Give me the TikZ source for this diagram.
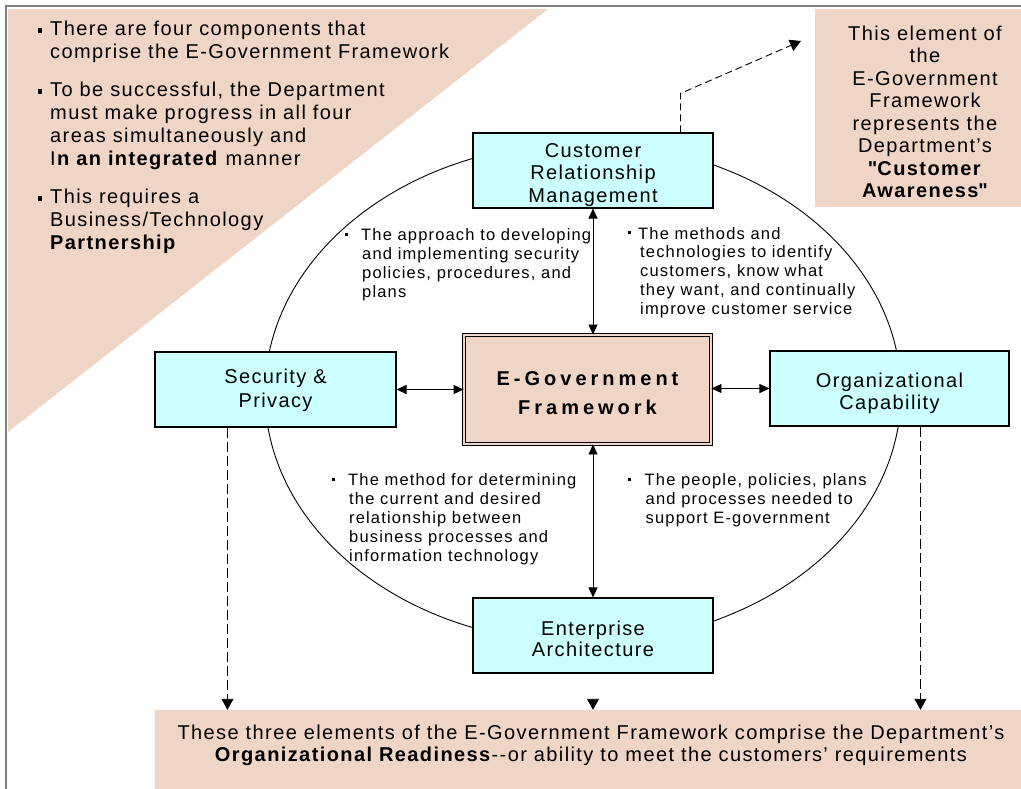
\documentclass[tikz,border=0pt]{standalone}
\usepackage{fontspec}
\setmainfont{Liberation Sans}[LetterSpace=7]
\newfontfamily\egfont{Liberation Sans}[LetterSpace=20]
\usetikzlibrary{arrows.meta,calc}
\definecolor{pinkbg}{RGB}{239,213,198}
\definecolor{cyanbox}{RGB}{204,255,255}
\definecolor{framegray}{RGB}{128,128,128}
\newcommand\bigsz[1]{\fontsize{20}{#1}\selectfont}
\newcommand\smallsz[1]{\fontsize{16.5}{#1}\selectfont}
\newcommand\sqb[3]{\makebox[#1][l]{\rule[#3]{#2}{#2}}}
\newcommand\ind[1]{\hskip#1\relax}
\newcommand\clines[1]{\vtop{\halign{\hfil##\hfil\cr#1\crcr}}}
\newcommand\llines[1]{\vtop{\halign{##\hfil\cr#1\crcr}}}
\begin{document}
\begin{tikzpicture}[x=1pt,y=-1pt,
  cbox/.style={draw=black,line width=1.1pt,fill=cyanbox,inner sep=0pt,text height=0pt},
  note/.style={anchor=north west,inner sep=0pt,text height=0pt,text depth=0pt,font=\smallsz{19}},
  biarrow/.style={{Triangle[length=10pt,width=9pt]}-{Triangle[length=10pt,width=9pt]},line width=0.9pt},
  dasharrow/.style={-{Triangle[length=11pt,width=12pt]},line width=0.9pt,dash pattern=on 10pt off 4pt},
]
\useasboundingbox (0,0) rectangle (1021,788);
\fill[pinkbg] (8,9) -- (548,9) -- (8,432) -- cycle;
\draw[framegray,line width=2pt] (6,790) -- (6,6) -- (1023,6);
\draw[line width=0.9pt] (583,393) ellipse [x radius=318pt, y radius=250pt];

\node[fill=pinkbg,minimum width=220pt,minimum height=198pt,inner sep=0pt,text height=0pt,text depth=136pt,font=\bigsz{22.57}] (aware) at (925,108)
  {\clines{This element of\cr the\cr E-Government\cr Framework\cr represents the\cr Department's\cr \textbf{\textquotedbl Customer}\cr \textbf{Awareness\textquotedbl}}};

\node[fill=pinkbg,minimum width=872pt,minimum height=80pt,inner sep=0pt,text height=0pt,text depth=21.4pt,font=\bigsz{22.4}] (ready) at (591,750)
  {\clines{These three elements of the E-Government Framework comprise the Department's\cr \textbf{Organizational Readiness}-{}-or ability to meet the customers' requirements}};

\node[cbox,minimum width=240pt,minimum height=75pt,text depth=27pt,font=\bigsz{22.5}] (crm) at (593,170.5)
  {\clines{Customer\cr Relationship\cr Management}};
\node[cbox,minimum width=241pt,minimum height=75pt,text depth=12.4pt,font=\bigsz{24}] (sec) at (275.5,389.5)
  {\clines{Security \&\cr Privacy}};
\node[cbox,minimum width=239pt,minimum height=75pt,text depth=3pt,font=\bigsz{22.6}] (org) at (889.5,388.5)
  {\clines{Organizational\cr Capability}};
\node[cbox,minimum width=240pt,minimum height=75pt,text depth=1pt,font=\bigsz{21.7}] (ea) at (593,635.5)
  {\clines{Enterprise\cr Architecture}};
\node[draw=black,line width=0.9pt,double=pinkbg,double distance=2.2pt,fill=pinkbg,minimum width=247pt,minimum height=109pt,inner sep=0pt,text height=0pt,text depth=7.6pt,font=\egfont\bfseries\fontsize{20}{28.6}\selectfont] (eg) at (587.5,389.5)
  {\clines{E-Government\cr Framework}};

\node[note,font=\bigsz{23}] (intro) at (37.5,35)
  {\llines{\sqb{12.5pt}{4.5pt}{3pt}There are four components that\cr
   \ind{12.5pt}comprise the E-Government Framework\cr
   \noalign{\vskip15pt}
   \sqb{12.5pt}{4.5pt}{3pt}To be successful, the Department\cr
   \ind{12.5pt}must make progress in all four\cr
   \ind{12.5pt}areas simultaneously and\cr
   \ind{12.5pt}I\textbf{n an integrated} manner\cr
   \noalign{\vskip15pt}
   \sqb{12.5pt}{4.5pt}{3pt}This requires a\cr
   \ind{12.5pt}Business/Technology\cr
   \ind{12.5pt}\textbf{Partnership}}};

\node[note] (secnote) at (345,240)
  {\llines{\sqb{16pt}{3pt}{5pt}The approach to developing\cr
   \ind{17pt}and implementing security\cr
   \ind{17pt}policies, procedures, and\cr
   \ind{17pt}plans}};
\node[note,font=\smallsz{18.75}] (crmnote) at (628,238.3)
  {\llines{\sqb{10pt}{3pt}{5pt}The methods and\cr
   \ind{12pt}technologies to identify\cr
   \ind{12pt}customers, know what\cr
   \ind{12pt}they want, and continually\cr
   \ind{12pt}improve customer service}};
\node[note] (eanote) at (332,485)
  {\llines{\sqb{16pt}{3pt}{5pt}The method for determining\cr
   \ind{17pt}the current and desired\cr
   \ind{17pt}relationship between\cr
   \ind{17pt}business processes and\cr
   \ind{17pt}information technology}};
\node[note] (orgnote) at (628,485)
  {\llines{\sqb{16.5pt}{3pt}{5pt}The people, policies, plans\cr
   \ind{17.5pt}and processes needed to\cr
   \ind{17.5pt}support E-government}};

\draw[biarrow] (crm.south) -- (crm.south |- eg.north);
\draw[biarrow] (sec.east) -- (eg.west);
\draw[biarrow] (eg.east |- org.west) -- (org.west);
\draw[biarrow] (ea.north |- eg.south) -- (ea.north);

\draw[dasharrow] ($(sec.south west)+(73,0)$) -- ($(sec.south west |- ready.north)+(73,0)$);
\draw[dasharrow] ($(org.south west)+(151,0)$) -- ($(org.south west |- ready.north)+(151,0)$);
\draw[dasharrow,dash pattern=on 0pt off 60pt] (ea.south) -- (ea.south |- ready.north);
\coordinate (awtip) at (801,41);
\draw[dasharrow,dash pattern=on 7pt off 4pt] ($(crm.north west)+(208,0)$) -- ++(0,-39) -- (awtip);
\end{tikzpicture}
\end{document}
